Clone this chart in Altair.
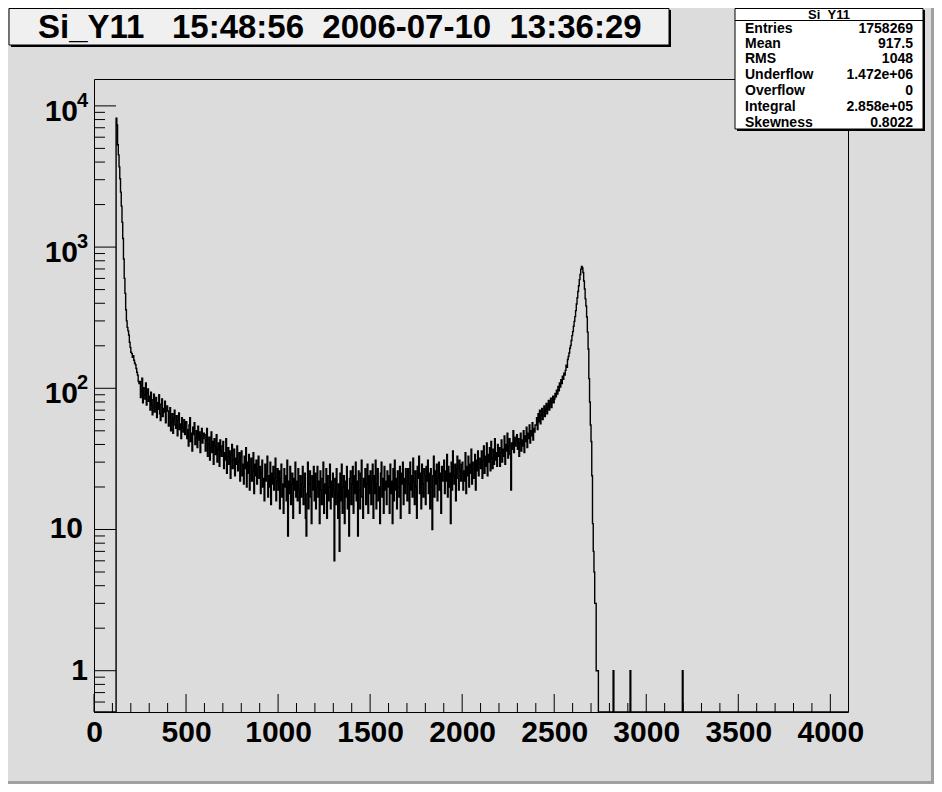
import altair as alt
import numpy as np
import pandas as pd

# ---------------- data (counts per bin of width 4) ----------------
N_BINS = 1024
X_MAX = 4096
FIRST_BIN = 30  # first non-empty bin (x = 120)

head = [8190, 7330, 5300, 4500, 3700, 3050, 2450, 1950, 1500, 1150, 824, 600, 470, 360,
        300, 270, 255, 238, 212, 195, 180, 176, 166, 170, 158, 151, 147, 138, 130, 124,
        112, 108]
c248 = [112, 86, 95, 118, 79, 101, 90, 84, 109, 76, 93, 99, 81]
c300 = [88, 70, 94, 76, 65, 83, 91, 68, 74, 86, 62, 79, 71, 90, 66, 59, 77, 84, 63, 72,
        68, 81, 57, 70, 75]
c400 = [69, 54, 62, 73, 50, 58, 66, 48, 61, 70, 55, 52, 64, 46, 59, 67, 51, 56, 44, 62,
        53, 49, 60, 47, 57]
c500 = [58, 44, 51, 39, 55, 62, 42, 48, 36, 53, 47, 57, 40, 45, 50, 38, 54, 43, 49, 35,
        46, 52, 41, 44, 48]
c600 = [47, 36, 43, 52, 33, 40, 45, 31, 38, 49, 35, 42, 29, 44, 39, 34, 47, 30, 37, 41,
        28, 43, 36, 33, 39]
c700 = [42, 27, 35, 31, 44, 25, 33, 38, 29, 36, 23, 34, 40, 27, 31, 37, 24, 32, 29, 39,
        26, 30, 35, 22, 33]
c800 = [36, 24, 29, 21, 33, 27, 38, 20, 30, 25, 34, 19, 28, 32, 22, 26, 35, 18, 29, 24,
        31, 21, 27, 33, 23]
c900 = [28, 18, 25, 31, 20, 23, 16, 29, 22, 26, 33, 17, 24, 20, 30, 15, 25, 21, 28, 19,
        23, 32, 16, 22, 27]
c1000 = [19, 26, 14, 23, 29, 17, 21, 13, 27, 20, 24, 16, 31, 9, 22, 18, 28, 15, 21, 25,
         12, 23, 19, 30, 17]
c1100 = [22, 16, 27, 19, 13, 24, 17, 21, 28, 15, 20, 25, 12, 9, 18, 30, 14, 21, 26, 17,
         11, 24, 19, 28, 16]
c1200 = [25, 14, 20, 28, 17, 22, 11, 26, 19, 15, 23, 30, 13, 21, 18, 27, 12, 24, 16, 20,
         29, 14, 22, 17, 25]
c1300 = [19, 6, 23, 15, 27, 18, 12, 21, 7, 25, 16, 29, 13, 20, 24, 11, 22, 17, 28, 14,
         19, 9, 23, 26, 15]
c1400 = [21, 28, 13, 24, 18, 30, 16, 22, 9, 26, 19, 14, 25, 31, 17, 12, 23, 20, 27, 15,
         21, 29, 13, 24, 18]
c1500 = [26, 15, 22, 29, 12, 24, 18, 31, 14, 21, 27, 16, 20, 11, 25, 30, 17, 23, 13, 28,
         19, 22, 15, 26, 20]
c1600 = [24, 13, 29, 18, 22, 11, 27, 16, 31, 19, 23, 14, 26, 20, 17, 28, 12, 25, 21, 30,
         15, 23, 18, 27, 22]
c1700 = [16, 27, 21, 13, 30, 19, 24, 17, 32, 22, 15, 26, 20, 12, 28, 23, 33, 18, 25, 14,
         29, 21, 17, 27, 24]
c1800 = [15, 28, 22, 31, 18, 25, 14, 27, 20, 10, 24, 33, 17, 26, 21, 29, 16, 23, 30, 19,
         25, 13, 28, 22, 26]
c1900 = [31, 18, 26, 22, 34, 17, 28, 20, 25, 11, 30, 19, 36, 24, 21, 29, 16, 27, 33, 23,
         19, 31, 26, 22, 29]
c2000 = [30, 19, 26, 22, 35, 18, 28, 24, 33, 20, 29, 25, 37, 21, 30, 27, 23, 34, 19, 31,
         26, 36, 24, 29, 32]
c2100 = [27, 36, 23, 31, 39, 25, 33, 28, 41, 24, 34, 30, 38, 26, 42, 32, 27, 37, 29, 44,
         31, 35, 28, 40, 33]
c2200 = [38, 28, 35, 43, 30, 37, 33, 46, 29, 40, 36, 48, 32, 39, 44, 34, 19, 41, 37, 50,
         35, 45, 39, 42, 47]
c2300 = [37, 44, 33, 41, 48, 36, 43, 39, 50, 35, 46, 42, 53, 38, 48, 44, 55, 41, 50, 46,
         57, 43, 52, 49, 55]
c2400 = [55, 62, 51, 66, 58, 70, 56, 64, 72, 60, 68, 75, 63, 71, 78, 66, 74, 82, 70, 77,
         85, 73, 80, 88, 79]
c2500 = [84, 92, 87, 97, 91, 103, 96, 109, 102, 115, 108, 122, 116, 128, 124]
peak = [134, 146, 141, 160, 168, 178, 192, 201, 218, 236, 252, 275, 298, 322, 355, 395,
        438, 485, 532, 588, 640, 698, 728, 712, 660, 575, 505, 430, 383, 320, 250, 190,
        117, 80, 55, 42, 24, 11, 7, 5, 3, 3, 1, 1, 1]

spike_bins = [705, 728, 799]
spike_counts = [1, 1, 1]

segments = [head, c248, c300, c400, c500, c600, c700, c800, c900, c1000, c1100, c1200,
            c1300, c1400, c1500, c1600, c1700, c1800, c1900, c2000, c2100, c2200, c2300,
            c2400, c2500, peak]
counts = [v for s in segments for v in s]

hist = np.zeros(N_BINS)
hist[FIRST_BIN:FIRST_BIN + len(counts)] = counts
for b, c in zip(spike_bins, spike_counts):
    hist[b] = c
edges = np.arange(N_BINS + 1) * (X_MAX / N_BINS)
vals = np.append(hist, 0.0)
vals = np.where(vals > 0, vals, 0.3)  # empty bins drawn on the bottom edge (clamped)
df = pd.DataFrame({"x": edges, "n": vals})

x_labels = [0, 500, 1000, 1500, 2000, 2500, 3000, 3500, 4000]
x_minor = [v for v in range(100, 4100, 100) if v % 500 != 0]
y_major = [1, 10, 100, 1000, 10000]
y_minor = [0.6, 0.7, 0.8, 0.9] + [m * 10 ** k for k in range(0, 4) for m in range(2, 10)]
exp_vals = [100, 1000, 10000]
exp_text = ["2", "3", "4"]

title_text = "Si_Y11\u00a0\u00a0\u00a015:48:56\u00a0\u00a02006-07-10\u00a0\u00a013:36:29"
stats_name = "Si_Y11"
stats_labels = ["Entries", "Mean", "RMS", "Underflow", "Overflow", "Integral", "Skewness"]
stats_values = ["1758269", "917.5", "1048", "1.472e+06", "0", "2.858e+05", "0.8022"]

# ---------------- layout ----------------
W, H = 754, 633
PAD = {"left": 86, "top": 71, "right": 86, "bottom": 72}   # total 926 x 776
FONT = "Liberation Sans, Arial, Helvetica, sans-serif"
BG = "#dcdcdc"


def X(r):  # reference-picture pixel -> plot-area pixel
    return r - 94


def Y(r):
    return r - 79


xs = alt.Scale(domain=[0, X_MAX], nice=False, zero=False)
ys = alt.Scale(type="log", domain=[0.51, 15500], nice=False, clamp=True)
xaxis = alt.Axis(values=x_labels, labelFontSize=30, labelFont=FONT, labelFontWeight="bold",
                 labelColor="black", domain=False, ticks=False, grid=False, labelPadding=5,
                 title=None, labelFlush=False, labelOverlap=False, format="d")

one = pd.DataFrame({"k": [0]})


def box(x1, x2, y1, y2, fill, stroke=None):
    kw = dict(fill=fill)
    if stroke:
        kw.update(stroke=stroke, strokeWidth=1)
    return alt.Chart(one).mark_rect(**kw).encode(
        x=alt.value(X(x1)), x2=alt.value(X(x2)), y=alt.value(Y(y1)), y2=alt.value(Y(y2)))


def label(txt, x, y, size, align="left", baseline="middle"):
    return alt.Chart(one).mark_text(text=txt, align=align, baseline=baseline, font=FONT,
                                    fontWeight="bold", fontSize=size, color="black").encode(
        x=alt.value(X(x)), y=alt.value(Y(y)))


line = alt.Chart(df).mark_line(interpolate="step-after", color="black", strokeWidth=1.4).encode(
    x=alt.X("x:Q", scale=xs, axis=xaxis), y=alt.Y("n:Q", scale=ys, axis=None))

xmaj = alt.Chart(pd.DataFrame({"v": x_labels})).mark_rule(color="black", strokeWidth=1).encode(
    x=alt.X("v:Q", scale=xs, axis=xaxis), y=alt.value(H), y2=alt.value(H - 18))
xmin = alt.Chart(pd.DataFrame({"v": x_minor})).mark_rule(color="black", strokeWidth=1).encode(
    x=alt.X("v:Q", scale=xs, axis=xaxis), y=alt.value(H), y2=alt.value(H - 9))
ymaj = alt.Chart(pd.DataFrame({"v": y_major})).mark_rule(color="black", strokeWidth=1).encode(
    y=alt.Y("v:Q", scale=ys, axis=None), x=alt.value(0), x2=alt.value(22))
ymin = alt.Chart(pd.DataFrame({"v": y_minor})).mark_rule(color="black", strokeWidth=1).encode(
    y=alt.Y("v:Q", scale=ys, axis=None), x=alt.value(0), x2=alt.value(11))

exp_df = pd.DataFrame({"v": exp_vals, "e": exp_text})
ylab_base = alt.Chart(exp_df).mark_text(text="10", align="right", baseline="middle", dy=6,
                                        font=FONT, fontWeight="bold", fontSize=30,
                                        color="black").encode(
    y=alt.Y("v:Q", scale=ys, axis=None), x=alt.value(X(78)))
ylab_sup = alt.Chart(exp_df).mark_text(align="left", baseline="middle", dy=-5, font=FONT,
                                       fontWeight="bold", fontSize=20, color="black").encode(
    y=alt.Y("v:Q", scale=ys, axis=None), x=alt.value(X(77)), text="e:N")
ylab_10 = alt.Chart(pd.DataFrame({"v": [10]})).mark_text(
    text="10", align="right", baseline="middle", font=FONT, fontWeight="bold", fontSize=30,
    color="black").encode(y=alt.Y("v:Q", scale=ys, axis=None), x=alt.value(X(83)))
ylab_1 = alt.Chart(pd.DataFrame({"v": [1]})).mark_text(
    text="1", align="right", baseline="middle", font=FONT, fontWeight="bold", fontSize=30,
    color="black").encode(y=alt.Y("v:Q", scale=ys, axis=None), x=alt.value(X(88)))

layers = [line, xmaj, xmin, ymaj, ymin, ylab_base, ylab_sup, ylab_10, ylab_1]

# title box (its top edge sits at the top of the drawing)
layers += [box(11, 671, 10, 47, "black"), box(9, 669, 8.5, 45, "#f0f0f0", "black"),
           label(title_text, 38, 38, 33, baseline="alphabetic")]

# stats box
layers += [box(737, 925, 10, 131, "black"), box(735, 923, 8.5, 129, "#ffffff", "black")]
layers += [alt.Chart(one).mark_rule(color="black", strokeWidth=1).encode(
    x=alt.value(X(735)), x2=alt.value(X(923)), y=alt.value(Y(20.5)))]
layers += [label(stats_name, 829, 14.6, 13, align="center")]
row_y = [28.8, 43.6, 58.7, 75.0, 91.0, 107.0, 123.0]
for lab, val, yy in zip(stats_labels, stats_values, row_y):
    layers += [label(lab, 745, yy, 14), label(val, 913, yy, 14, align="right")]

# canvas bevel (bottom / right edge of the drawing)
layers += [box(0, 934, 781, 784, "#a0a0a0"), box(931, 934, 0, 784, "#a0a0a0")]

chart = alt.layer(*layers).properties(
    width=W, height=H, padding=PAD, autosize=alt.AutoSizeParams(type="none"),
    background=BG,
).configure_view(stroke="black", strokeWidth=1, fill=BG)

chart.save("out.html", embed_options={"renderer": "svg", "actions": False})
